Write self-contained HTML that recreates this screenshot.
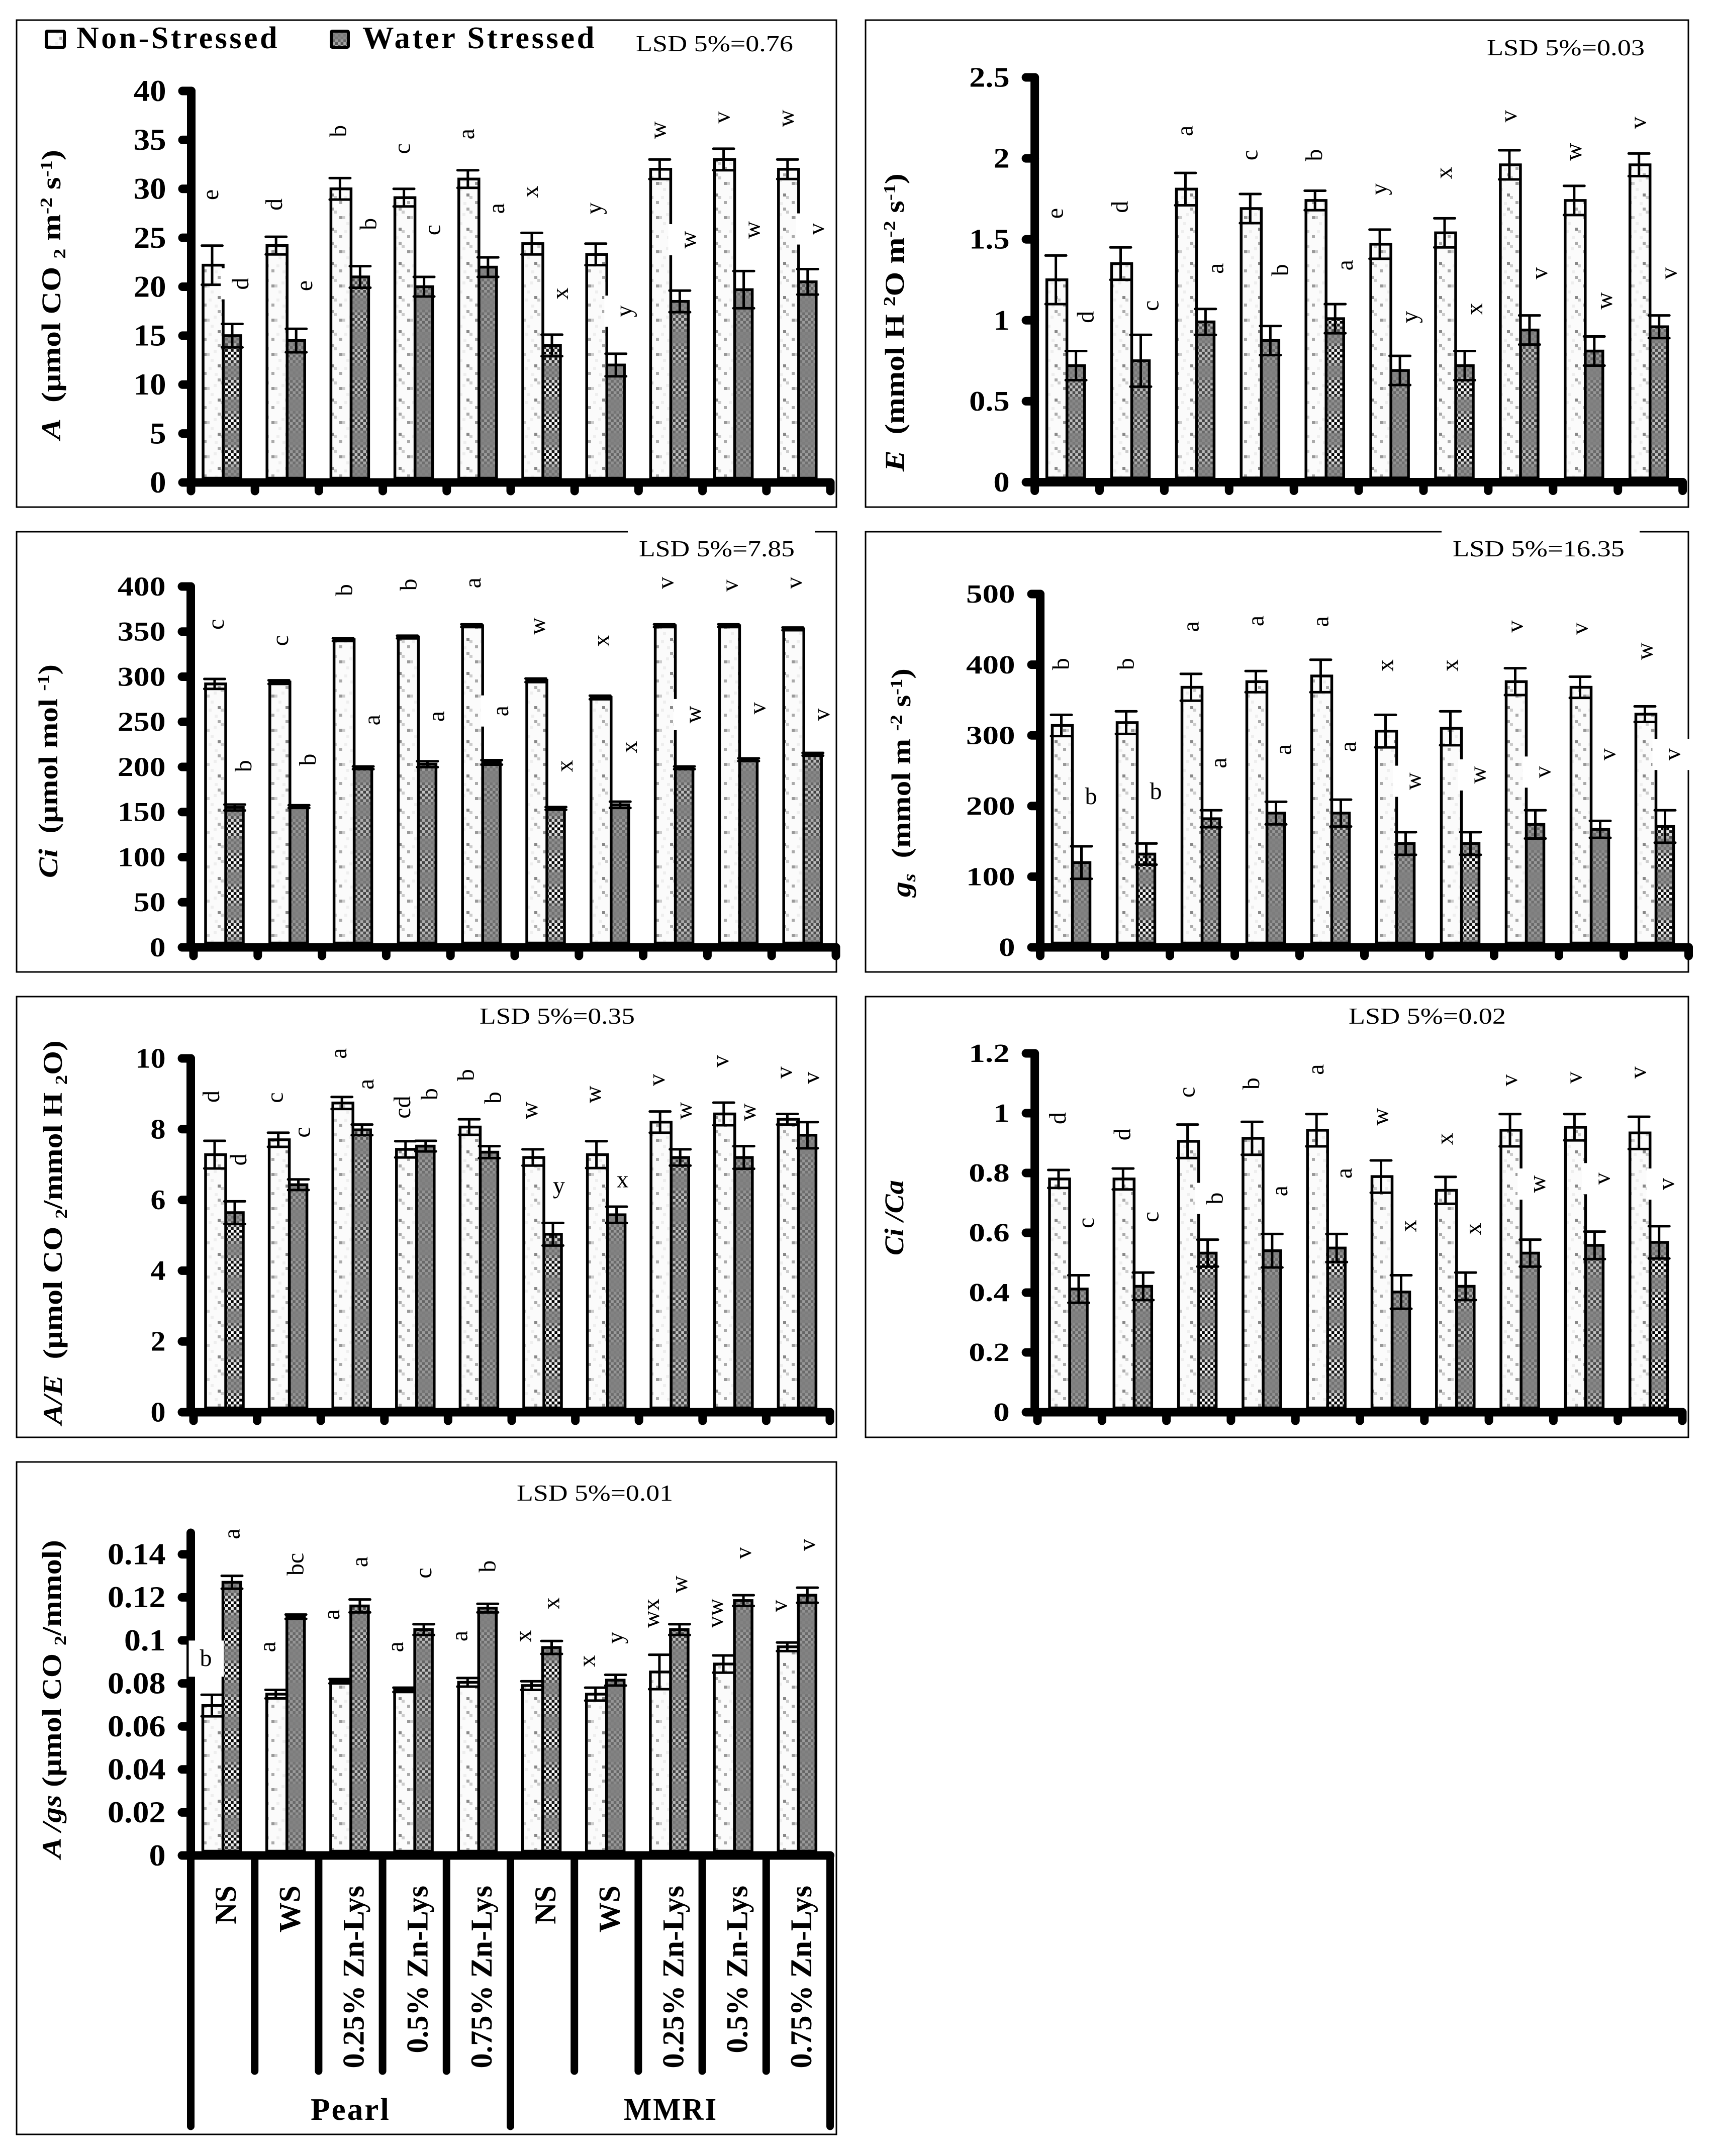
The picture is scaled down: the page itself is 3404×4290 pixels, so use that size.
<!DOCTYPE html>
<html lang="en">
<head>
<meta charset="utf-8">
<title>Gas exchange attributes under water stress</title>
<style>
html,body{margin:0;padding:0;background:#fff;}
svg{display:block;}
text{font-family:"Liberation Serif",serif;fill:#000;white-space:pre;}
.b{font-weight:bold;}
.lsd{font-size:46px;}
.title{font-size:54px;font-weight:bold;}
.legend{font-size:62px;font-weight:bold;letter-spacing:4.5px;}
.group{font-size:62px;font-weight:bold;letter-spacing:3px;}
</style>
</head>
<body>
<svg id="figure" xmlns="http://www.w3.org/2000/svg" width="3404" height="4290" viewBox="0 0 3404 4290">
<defs>
<pattern id="ns-fill" patternUnits="userSpaceOnUse" width="45" height="68">
<rect width="45" height="68" fill="#fbfbfb"/>
<rect x="0" y="22" width="6" height="6" fill="#999"/>
<rect x="6" y="22" width="6" height="6" fill="#ccc"/>
<rect x="28" y="5" width="6" height="6" fill="#aaa"/>
<rect x="34" y="11" width="6" height="6" fill="#ccc"/>
<rect x="28" y="45" width="6" height="6" fill="#888"/>
<rect x="34" y="50" width="6" height="6" fill="#ccc"/>
<rect x="0" y="60" width="6" height="6" fill="#aaa"/>
<rect x="14" y="34" width="6" height="6" fill="#eee"/>
<rect x="20" y="16" width="6" height="6" fill="#eee"/>
<rect x="10" y="50" width="6" height="6" fill="#eee"/>
<rect x="22" y="62" width="6" height="6" fill="#eee"/>
</pattern>
</defs>
<rect width="3404" height="4290" fill="#fff"/>
<g id="frames" fill="none" stroke="#000" stroke-width="3">
<rect x="33" y="40" width="1631" height="969"/>
<rect x="1722" y="40" width="1637" height="969"/>
<rect x="33" y="1058" width="1631" height="876"/>
<rect x="1722" y="1058" width="1637" height="876"/>
<rect x="33" y="1983" width="1631" height="877"/>
<rect x="1722" y="1983" width="1637" height="877"/>
<rect x="33" y="2909" width="1631" height="1338"/>
</g>
<rect x="1249" y="1050" width="372" height="16" fill="#fff"/>
<rect x="2868" y="1050" width="394" height="16" fill="#fff"/>
<g id="charts"></g>

<rect x="92" y="62" width="36" height="32" rx="2" fill="url(#ns-fill)" stroke="#000" stroke-width="6"/>
<text class="legend fit" data-x="152" data-y="96" data-len="404">Non-Stressed</text>
<rect id="ws-swatch" x="659" y="62" width="34" height="32" rx="2" fill="#808080" stroke="#000" stroke-width="6"/>
<text class="legend fit" data-x="721" data-y="96" data-len="466">Water Stressed</text>

<text class="lsd fit" data-x="1265" data-y="102" data-len="313">LSD 5%=0.76</text>
<text class="lsd fit" data-x="2958" data-y="110" data-len="314">LSD 5%=0.03</text>
<text class="lsd fit" data-x="1271" data-y="1107" data-len="310">LSD 5%=7.85</text>
<text class="lsd fit" data-x="2890" data-y="1107" data-len="342">LSD 5%=16.35</text>
<text class="lsd fit" data-x="954" data-y="2037" data-len="309">LSD 5%=0.35</text>
<text class="lsd fit" data-x="2683" data-y="2037" data-len="313">LSD 5%=0.02</text>
<text class="lsd fit" data-x="1028" data-y="2986" data-len="311">LSD 5%=0.01</text>

<text class="title fit" data-x="120" data-y="875" data-len="577" data-rot="1"><tspan font-style="italic">A</tspan>  (µmol CO <tspan font-size="34" dy="10">2</tspan><tspan dy="-10"> m</tspan><tspan font-size="34" dy="-17">-2</tspan><tspan dy="17"> s</tspan><tspan font-size="34" dy="-17">-1</tspan><tspan dy="17">)</tspan></text>
<text class="title fit" data-x="1798" data-y="938" data-len="593" data-rot="1"><tspan font-style="italic">E</tspan>  (mmol H <tspan font-size="34" dy="-17">2</tspan><tspan dy="17">O m</tspan><tspan font-size="34" dy="-17">-2</tspan><tspan dy="17"> s</tspan><tspan font-size="34" dy="-17">-1</tspan><tspan dy="17">)</tspan></text>
<text class="title fit" data-x="114" data-y="1747" data-len="425" data-rot="1"><tspan font-style="italic">Ci</tspan>  (µmol mol <tspan font-size="34" dy="-17">-1</tspan><tspan dy="17">)</tspan></text>
<text class="title fit" data-x="1811" data-y="1785" data-len="455" data-rot="1"><tspan font-style="italic">g</tspan><tspan font-style="italic" font-size="36" dy="10">s</tspan><tspan dy="-10">  (mmol m </tspan><tspan font-size="34" dy="-17">-2</tspan><tspan dy="17"> s</tspan><tspan font-size="34" dy="-17">-1</tspan><tspan dy="17">)</tspan></text>
<text class="title fit" data-x="123" data-y="2835" data-len="765" data-rot="1"><tspan font-style="italic">A/E</tspan>  (µmol CO <tspan font-size="34" dy="10">2</tspan><tspan dy="-10">/mmol H </tspan><tspan font-size="34" dy="10">2</tspan><tspan dy="-10">O)</tspan></text>
<text class="title fit" data-x="1797" data-y="2498" data-len="150" data-rot="1" font-style="italic">Ci /Ca</text>
<text class="title fit" data-x="121" data-y="3698" data-len="634" data-rot="1"><tspan font-style="italic">A /gs</tspan> (µmol CO <tspan font-size="34" dy="10">2</tspan><tspan dy="-10">/mmol)</tspan></text>

<text class="group fit" data-x="618" data-y="4218" data-len="159">Pearl</text>
<text class="group fit" data-x="1241" data-y="4218" data-len="187">MMRI</text>
</svg>

<script>
const treatments = ['NS','WS','0.25% Zn-Lys','0.5% Zn-Lys','0.75% Zn-Lys','NS','WS','0.25% Zn-Lys','0.5% Zn-Lys','0.75% Zn-Lys'];

const aTicks = ['0','5','10','15','20','25','30','35','40'];
const aNs = [22.2,24.2,30,29.1,31,24.4,23.3,32,33,32];
const aNsErr = [2,0.9,1.1,0.9,0.9,1.1,1.1,1,1.1,1];
const aWs = [15,14.5,21,20,22,14,12,18.5,19.7,20.5];
const aWsErr = [1.2,1.2,1.1,1,1,1.1,1.15,1.1,1.9,1.3];
const aNsLetters = ['e','d','b','c','a','x','y','w','v','w'];
const aWsLetters = ['d','e','b','c','a','x','y','w','w','v'];
const aNsLetterAt = [29.4,28.4,35.9,34.1,35.6,29.7,28,36,37.3,37.2];
const aWsLetterAt = [20.3,20.1,26.4,25.8,28,19.3,17.5,24.8,25.8,25.9];

const eTicks = ['0','0.5','1','1.5','2','2.5'];
const eNs = [1.25,1.35,1.81,1.69,1.74,1.47,1.54,1.96,1.74,1.96];
const eNsErr = [0.15,0.1,0.1,0.09,0.06,0.09,0.09,0.09,0.09,0.07];
const eWs = [0.72,0.75,0.99,0.875,1.01,0.69,0.72,0.94,0.81,0.96];
const eWsErr = [0.09,0.16,0.08,0.09,0.09,0.09,0.09,0.09,0.09,0.07];
const eNsLetters = ['e','d','a','c','b','y','x','v','w','v'];
const eWsLetters = ['d','c','a','b','a','y','x','v','w','v'];
const eNsLetterAt = [1.66,1.7,2.17,2.02,2.02,1.81,1.91,2.26,2.04,2.22];
const eWsLetterAt = [1.02,1.09,1.32,1.31,1.34,1.02,1.07,1.29,1.12,1.29];

const ciTicks = ['0','50','100','150','200','250','300','350','400'];
const ciNs = [292,294,341,344,356.5,296,277,356.5,356.5,353];
const ciNsErr = [5.5,2,1.5,1.5,1.5,2,2,1.5,1.5,1.5];
const ciWs = [155,156,199,203,205,154,158,199,208,214];
const ciWsErr = [3.3,1.5,1.5,3.3,2.5,1.5,3.5,1.5,1.5,1.5];
const ciNsLetters = ['c','c','b','b','a','w','x','v','v','v'];
const ciWsLetters = ['b','b','a','a','a','x','x','w','v','v'];
const ciNsLetterAt = [358,340,396,402,404,356,340,404,401,404];
const ciWsLetterAt = [201,208,252,256,262,201,222,258,265,258];

const gsTicks = ['0','100','200','300','400','500'];
const gsNs = [314,318,368,376,384,306,310,376,368,330];
const gsNsErr = [15,16,19,15,23,23,24,19,15,11];
const gsWs = [120,132,182,190,190,147,147,174,167,171];
const gsWsErr = [23,15,12,16,19,16,16,20,12,23];
const gsNsLetters = ['b','b','a','a','a','x','x','v','v','w'];
const gsWsLetters = ['b','b','a','a','a','w','w','v','v','v'];
const gsNsLetterAt = [401,401,454,462,461,399,399,454,451,419];
const gsWsLetterAt = [213,220,261,280,284,235,244,248,273,273];

const aeTicks = ['0','2','4','6','8','10'];
const aeNs = [7.28,7.7,8.74,7.43,8.06,7.2,7.28,8.2,8.43,8.28];
const aeNsErr = [0.39,0.2,0.17,0.23,0.22,0.23,0.38,0.3,0.32,0.15];
const aeWs = [5.64,6.43,7.98,7.52,7.35,5.03,5.58,7.2,7.2,7.83];
const aeWsErr = [0.32,0.15,0.15,0.15,0.17,0.32,0.23,0.23,0.32,0.37];
const aeNsLetters = ['d','c','a','cd','b','w','w','v','v','v'];
const aeWsLetters = ['d','c','a','b','b','y','x','w','w','v'];
const aeNsLetterAt = [8.92,8.89,10.14,8.62,9.53,8.53,8.98,9.39,9.92,9.6];
const aeWsLetterAt = [7.14,7.91,9.27,8.99,8.89,6.39,6.56,8.52,8.48,9.45];

const cicaTicks = ['0','0.2','0.4','0.6','0.8','1','1.2'];
const cicaNs = [0.78,0.78,0.906,0.916,0.943,0.788,0.742,0.943,0.953,0.934];
const cicaNsErr = [0.03,0.035,0.056,0.055,0.054,0.054,0.045,0.054,0.044,0.054];
const cicaWs = [0.412,0.421,0.532,0.54,0.549,0.402,0.421,0.532,0.558,0.568];
const cicaWsErr = [0.046,0.046,0.045,0.056,0.047,0.056,0.046,0.045,0.046,0.054];
const cicaNsLetters = ['d','d','c','b','a','w','x','v','v','v'];
const cicaWsLetters = ['c','c','b','a','a','x','x','w','v','v'];
const cicaNsLetterAt = [0.983,0.929,1.07,1.099,1.146,0.988,0.914,1.11,1.119,1.136];
const cicaWsLetterAt = [0.633,0.653,0.715,0.74,0.799,0.623,0.613,0.763,0.781,0.763];

const agsTicks = ['0','0.02','0.04','0.06','0.08','0.1','0.12','0.14'];
const agsNs = [0.0697,0.075,0.081,0.077,0.0805,0.079,0.075,0.0853,0.089,0.097];
const agsNsErr = [0.005,0.002,0.001,0.001,0.002,0.002,0.003,0.008,0.004,0.002];
const agsWs = [0.127,0.111,0.116,0.105,0.115,0.0967,0.0815,0.105,0.1185,0.121];
const agsWsErr = [0.003,0.001,0.003,0.0025,0.002,0.003,0.0025,0.0025,0.0025,0.0035];
const agsNsLetters = ['b','a','a','a','a','x','x','wx','vw','v'];
const agsWsLetters = ['a','bc','a','c','b','x','y','w','v','v'];
const agsNsLetterAt = [0.0915,0.097,0.112,0.097,0.102,0.102,0.0904,0.1126,0.1126,0.116];
const agsWsLetterAt = [0.1495,0.1354,0.1365,0.1313,0.1344,0.1172,0.1012,0.126,0.1406,0.1444];

const SVGNS = 'http://www.w3.org/2000/svg';
const figure = document.getElementById('figure');
const chartsRoot = document.getElementById('charts');

function make(parent, tag, attrs, text) {
  const el = document.createElementNS(SVGNS, tag);
  for (const k in attrs) el.setAttribute(k, attrs[k]);
  if (text !== undefined) el.textContent = text;
  parent.appendChild(el);
  return el;
}

/* checker fill patterns with horizontal bands of varying contrast */
const defs = figure.querySelector('defs');
const bandRows = [0,0,0.3,0.6,0.8,1,1,0.8,0.6,0.3,0,0];
const patternContrast = {h:1, m:0.5, l:0.22};
function grey(v){const c=Math.round(Math.max(0,Math.min(255,v)));return 'rgb('+c+','+c+','+c+')';}
Object.keys(patternContrast).forEach(function(key){
  const p = make(defs,'pattern',{id:'ws-'+key,patternUnits:'userSpaceOnUse',width:11.2,height:67.2});
  make(p,'rect',{width:11.2,height:67.2,fill:'#808080'});
  bandRows.forEach(function(c,row){
    const amp = 128*(0.12+c*0.88)*patternContrast[key];
    const lo = grey(128-amp), hi = grey(128+amp);
    make(p,'rect',{x:(row%2)*5.6,y:row*5.6,width:5.6,height:5.6,fill:lo});
    make(p,'rect',{x:((row+1)%2)*5.6,y:row*5.6,width:5.6,height:5.6,fill:hi});
  });
});
document.getElementById('ws-swatch').setAttribute('fill','url(#ws-m)');

const panels = [
 {key:'a',ax:380.5,tick0:380,step:127.2,y0:960,yTop:181,yMax:40,ticks:aTicks,fs:60,sx:1.08,
  ns:aNs,nsE:aNsErr,ws:aWs,wsE:aWsErr,nsL:aNsLetters,wsL:aWsLetters,nsH:aNsLetterAt,wsH:aWsLetterAt,
  nsDx:43,wsDx:103,fills:'hlmllhlmll',wsBoxes:[0,6,7,9],nsBoxes:[],upright:[]},
 {key:'e',ax:2058.6,tick0:2058.6,step:128.9,y0:959.5,yTop:154,yMax:2.5,ticks:eTicks,fs:56,sx:1.15,
  ns:eNs,nsE:eNsErr,ws:eWs,wsE:eWsErr,nsL:eNsLetters,wsL:eWsLetters,nsH:eNsLetterAt,wsH:eWsLetterAt,
  nsDx:45,wsDx:106,fills:'mmmlhlhmlm',wsBoxes:[],nsBoxes:[],upright:[]},
 {key:'ci',ax:379.5,tick0:385,step:127.8,y0:1885,yTop:1167,yMax:400,ticks:ciTicks,fs:54,sx:1.18,
  ns:ciNs,nsE:ciNsErr,ws:ciWs,wsE:ciWsErr,nsL:ciNsLetters,wsL:ciWsLetters,nsH:ciNsLetterAt,wsH:ciWsLetterAt,
  nsDx:49,wsDx:104,fills:'hlmmlhlmlm',wsBoxes:[4,7],nsBoxes:[],upright:[]},
 {key:'gs',ax:2069.5,tick0:2069.5,step:129,y0:1885,yTop:1182,yMax:500,ticks:gsTicks,fs:52,sx:1.25,
  ns:gsNs,nsE:gsNsErr,ws:gsWs,wsE:gsWsErr,nsL:gsNsLetters,wsL:gsWsLetters,nsH:gsNsLetterAt,wsH:gsWsLetterAt,
  nsDx:46,wsDx:101,fills:'lhmlmlhllh',wsBoxes:[5,6,7,9],nsBoxes:[],upright:[0,1]},
 {key:'ae',ax:379.5,tick0:385,step:126.6,y0:2810,yTop:2106,yMax:10,ticks:aeTicks,fs:56,sx:1.07,
  ns:aeNs,nsE:aeNsErr,ws:aeWs,wsE:aeWsErr,nsL:aeNsLetters,wsL:aeWsLetters,nsH:aeNsLetterAt,wsH:aeWsLetterAt,
  nsDx:40,wsDx:94,fills:'hlmllhlmll',wsBoxes:[],nsBoxes:[],upright:[5,6]},
 {key:'cica',ax:2058.6,tick0:2064,step:128.3,y0:2810,yTop:2096,yMax:1.2,ticks:cicaTicks,fs:52,sx:1.25,
  ns:cicaNs,nsE:cicaNsErr,ws:cicaWs,wsE:cicaWsErr,nsL:cicaNsLetters,wsL:cicaWsLetters,nsH:cicaNsLetterAt,wsH:cicaWsLetterAt,
  nsDx:45,wsDx:101,fills:'lmhlhlmlmh',wsBoxes:[2,7,8,9],nsBoxes:[],upright:[]},
 {key:'ags',ax:379.5,tick0:379.5,step:127.2,y0:3692,yTop:3050,yMax:0.15,ticks:agsTicks,fs:60,sx:1.1,
  ns:agsNs,nsE:agsNsErr,ws:agsWs,wsE:agsWsErr,nsL:agsNsLetters,wsL:agsWsLetters,nsH:agsNsLetterAt,wsH:agsWsLetterAt,
  nsDx:30,wsDx:86,fills:'hlmmlhlmll',wsBoxes:[],nsBoxes:[0],upright:[],nsUpright:[0],categoryAxis:true}
];

const AXIS_W = 17;

function errorBar(g, x, yHi, yLo, name) {
  const e = make(g,'path',{d:'M'+x+' '+yHi+'V'+yLo+'M'+(x-20.5)+' '+yHi+'H'+(x+20.5)+'M'+(x-20.5)+' '+yLo+'H'+(x+20.5),
    fill:'none',stroke:'#000','stroke-width':5,'stroke-linecap':'round'});
  
  
}

function drawLetter(g, x, y, str, upright, name) {
  const fs = 48;
  const t = make(g,'text',{'text-anchor':'middle','font-size':fs,dy:upright?'0.3em':'0.23em',
    transform:upright?('translate('+x+' '+y+')'):('translate('+x+' '+y+') rotate(-90)')},str);
  
  
}

panels.forEach(function(p){
  const yScale = function(v){ return p.y0 - (v/p.yMax)*(p.y0-p.yTop); };
  const xTick = function(i){ return p.tick0 + i*p.step; };
  const g = make(chartsRoot,'g',{});
  
  

  p.ns.forEach(function(v,i){
    const tick = xTick(i);
    const ws = make(g,'rect',{x:tick+64,y:yScale(p.ws[i]),width:35,height:p.y0-AXIS_W/2-yScale(p.ws[i]),
      fill:'url(#ws-'+p.fills[i]+')',stroke:'#000','stroke-width':5.5});
    
    
    const ns = make(g,'rect',{x:tick+24,y:yScale(v),width:40,height:p.y0-AXIS_W/2-yScale(v),
      fill:'url(#ns-fill)',stroke:'#000','stroke-width':5.5});
    
    
    errorBar(g, tick+42, yScale(v+p.nsE[i]), yScale(v-p.nsE[i]), 'error-bar-non-stressed');
    errorBar(g, tick+82, yScale(p.ws[i]+p.wsE[i]), yScale(p.ws[i]-p.wsE[i]), 'error-bar-water-stressed');
  });

  /* y axis */
  const yAxis = make(g,'line',{x1:p.ax,x2:p.ax,y1:p.yTop,y2:p.y0,stroke:'#000','stroke-width':AXIS_W,'stroke-linecap':'round'});
  
  
  p.ticks.forEach(function(label){
    const y = yScale(Number(label));
    const tk = make(g,'line',{x1:p.ax,x2:p.ax-17.5,y1:y,y2:y,stroke:'#000','stroke-width':AXIS_W,'stroke-linecap':'round'});
    
    
    const t = make(g,'text',{'text-anchor':'end','font-size':p.fs,'font-weight':'bold',
      transform:'translate('+(p.ax-50)+' '+(y+p.fs*0.33)+') scale('+p.sx+' 1)'},label);
    
    
  });

  /* x axis */
  const xAxis = make(g,'line',{x1:p.ax,x2:xTick(10),y1:p.y0,y2:p.y0,stroke:'#000','stroke-width':AXIS_W,'stroke-linecap':'round'});
  
  
  for (let i=0;i<=10;i++){
    let end = p.y0 + 17;
    if (p.categoryAxis) end = (i%5===0) ? 4231 : 4121;
    const tk = make(g,'line',{x1:xTick(i),x2:xTick(i),y1:p.y0,y2:end,stroke:'#000',
      'stroke-width':p.categoryAxis?15:AXIS_W,'stroke-linecap':'round'});
    
    
  }
  if (p.categoryAxis) {
    treatments.forEach(function(label,i){
      const bx = xTick(i)+p.step/2+26;
      const t = make(g,'text',{'text-anchor':'end','font-size':60,'font-weight':'bold',
        transform:'translate('+bx+' 3752) rotate(-90)'},label);
      
      
    });
  }

  /* white label boxes that hide part of the bars */
  p.wsBoxes.forEach(function(i){
    const lx = xTick(i)+p.wsDx, ly = yScale(p.wsH[i]);
    const b = make(g,'rect',{x:lx-44,y:ly-31,width:74,height:62,fill:'#fff'});
    
    
  });
  p.nsBoxes.forEach(function(i){
    const lx = xTick(i)+p.nsDx, ly = yScale(p.nsH[i]);
    const b = make(g,'rect',{x:lx-34,y:ly-36,width:70,height:72,fill:'#fff'});
    
    
  });

  /* significance letters */
  p.nsL.forEach(function(str,i){
    const up = (p.nsUpright||[]).indexOf(i)>=0;
    drawLetter(g, xTick(i)+p.nsDx, yScale(p.nsH[i]), str, up, 'significance-letter-non-stressed');
  });
  p.wsL.forEach(function(str,i){
    const up = p.upright.indexOf(i)>=0;
    drawLetter(g, xTick(i)+p.wsDx, yScale(p.wsH[i]), str, up, 'significance-letter-water-stressed');
  });
});

/* stretch static labels to their measured lengths */
figure.querySelectorAll('text.fit').forEach(function(el){
  const x = +el.getAttribute('data-x'), y = +el.getAttribute('data-y');
  const target = +el.getAttribute('data-len');
  const sx = target / el.getComputedTextLength();
  const rot = el.getAttribute('data-rot') ? ' rotate(-90)' : '';
  el.setAttribute('transform','translate('+x+' '+y+')'+rot+' scale('+sx+' 1)');
});
</script>
</body>
</html>
